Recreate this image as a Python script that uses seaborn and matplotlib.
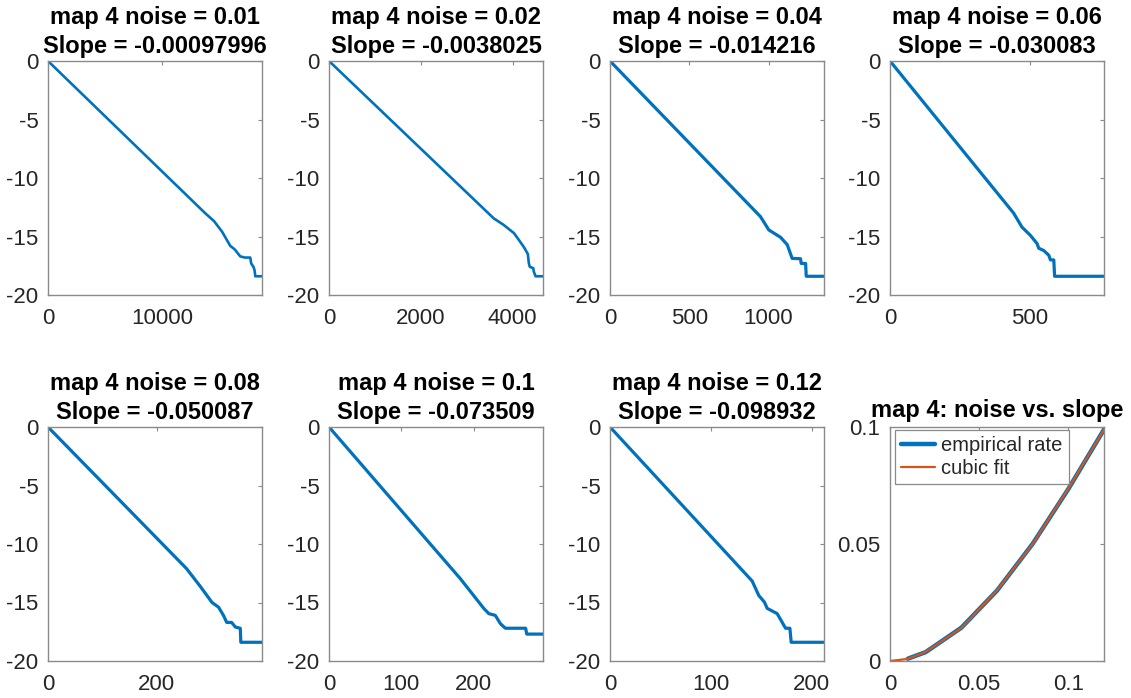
import numpy as np
import pandas as pd
import matplotlib
matplotlib.use("Agg")
import matplotlib.pyplot as plt
import seaborn as sns

# ---------------- data ----------------
noise_levels = [0.01, 0.02, 0.04, 0.06, 0.08, 0.1, 0.12]
slope_labels = ["-0.00097996", "-0.0038025", "-0.014216", "-0.030083",
                "-0.050087", "-0.073509", "-0.098932"]

x_limits = [18800, 4660, 1350, 767, 394, 296, 212]

x_ticks = [[0, 10000], [0, 2000, 4000], [0, 500, 1000], [0, 500],
           [0, 200], [0, 100, 200], [0, 100, 200]]

curve1_x = [0, 13800, 14600, 15300, 16010, 16400, 16890, 17300, 17770, 17850, 18050, 18150, 18210, 18800]
curve1_y = [0, -13.0, -13.7, -14.6, -15.8, -16.1, -16.7, -16.8, -16.8, -17.3, -17.6, -17.9, -18.4, -18.4]

curve2_x = [0, 3587, 3800, 4024, 4100, 4243, 4330, 4352, 4374, 4447, 4460, 4498, 4660]
curve2_y = [0, -13.45, -14.0, -14.7, -15.1, -15.9, -16.5, -17.3, -17.6, -17.7, -18.0, -18.4, -18.4]

curve3_x = [0, 949, 1002, 1076, 1118, 1149, 1202, 1206, 1234, 1238, 1350]
curve3_y = [0, -13.3, -14.44, -15.07, -15.7, -16.87, -16.9, -17.3, -17.3, -18.4, -18.4]

curve4_x = [0, 443, 473, 503, 527, 533, 551, 569, 575, 587, 590, 767]
curve4_y = [0, -13.0, -14.2, -14.9, -15.6, -16.0, -16.2, -16.6, -17.0, -17.0, -18.4, -18.4]

curve5_x = [0, 255, 280, 302, 314, 323, 329, 338, 345, 354, 355, 394]
curve5_y = [0, -12.1, -13.6, -15.0, -15.4, -16.1, -16.7, -16.7, -17.1, -17.2, -18.4, -18.4]

curve6_x = [0, 181.6, 200, 214, 221, 230, 237, 239.5, 244, 272, 273.5, 296]
curve6_y = [0, -12.96, -14.4, -15.5, -15.95, -16.1, -16.8, -16.95, -17.2, -17.2, -17.7, -17.7]

curve7_x = [0, 140.8, 147.4, 153, 155.7, 165.6, 170.6, 173.9, 178.2, 179.5, 212]
curve7_y = [0, -13.16, -14.4, -14.97, -15.5, -15.95, -16.7, -17.2, -17.2, -18.4, -18.4]

curves_x = [curve1_x, curve2_x, curve3_x, curve4_x, curve5_x, curve6_x, curve7_x]
curves_y = [curve1_y, curve2_y, curve3_y, curve4_y, curve5_y, curve6_y, curve7_y]

empirical_rate = [0.00097996, 0.0038025, 0.014216, 0.030083, 0.050087, 0.073509, 0.098932]
fit_x = [0, 0.01, 0.02, 0.04, 0.06, 0.08, 0.1, 0.12]
fit_y = [0.0, 0.0009, 0.0039, 0.0141, 0.0302, 0.0500, 0.0737, 0.0989]

# ---------------- style ----------------
sns.set_style("white")
plt.rcParams['font.family'] = ['Liberation Sans', 'DejaVu Sans']
plt.rcParams['axes.unicode_minus'] = False

BLUE = "#0072BD"
ORANGE = "#D95319"
EDGE = "#8a8a8a"
TXT = "#262626"

W, H = 1131, 698
fig = plt.figure(figsize=(W / 100, H / 100), dpi=100)

col_left = [48, 329, 610, 890]
row_top = [61, 427]
ax_w, ax_h = 214, 234


def make_axes(r, c):
    l = col_left[c]
    t = row_top[r]
    return fig.add_axes([l / W, (H - t - ax_h) / H, ax_w / W, ax_h / H])


def style_axes(ax):
    for s in ax.spines.values():
        s.set_color(EDGE)
        s.set_linewidth(1.0)
    ax.tick_params(direction="in", length=3, width=0.8, color=EDGE,
                   labelsize=16, labelcolor=TXT, top=True, right=True)
    ax.tick_params(axis="x", pad=9)
    ax.tick_params(axis="y", pad=7)
    ax.set_xlabel("")
    ax.set_ylabel("")


for i in range(7):
    r, c = divmod(i, 4)
    ax = make_axes(r, c)
    df = pd.DataFrame({"x": curves_x[i], "y": curves_y[i]})
    lw = 1.9 if i < 2 else 2.3
    sns.lineplot(data=df, x="x", y="y", sort=False, estimator=None,
                 color=BLUE, linewidth=lw, ax=ax)
    ax.set_xlim(0, x_limits[i])
    ax.set_ylim(-20, 0)
    ax.set_xticks(x_ticks[i])
    ax.set_xticklabels([str(v) for v in x_ticks[i]])
    ax.set_yticks([-20, -15, -10, -5, 0])
    ax.set_yticklabels(["-20", "-15", "-10", "-5", "0"])
    style_axes(ax)
    ax.set_title(f"map 4 noise = {noise_levels[i]:g}\nSlope = {slope_labels[i]}",
                 fontsize=17, fontweight="bold", color="black", pad=6,
                 linespacing=1.3)

# summary panel
ax = make_axes(1, 3)
df_emp = pd.DataFrame({"noise": noise_levels, "rate": empirical_rate})
df_fit = pd.DataFrame({"noise": fit_x, "rate": fit_y})
sns.lineplot(data=df_emp, x="noise", y="rate", color=BLUE, linewidth=3.2,
             ax=ax, label="empirical rate", sort=False, estimator=None)
sns.lineplot(data=df_fit, x="noise", y="rate", color=ORANGE, linewidth=1.6,
             ax=ax, label="cubic fit", sort=False, estimator=None)
ax.set_xlim(0, 0.12)
ax.set_ylim(0, 0.1)
ax.set_xticks([0, 0.05, 0.1])
ax.set_xticklabels(["0", "0.05", "0.1"])
ax.set_yticks([0, 0.05, 0.1])
ax.set_yticklabels(["0", "0.05", "0.1"])
style_axes(ax)
ax.set_title("map 4: noise vs. slope", fontsize=17, fontweight="bold",
             color="black", pad=7)
leg = ax.legend(loc="upper left", bbox_to_anchor=(0.023, 0.988),
                borderaxespad=0, fontsize=14.5, frameon=True, fancybox=False,
                framealpha=1, edgecolor=EDGE, handlelength=1.7,
                handletextpad=0.3, borderpad=0.3, labelspacing=0.2)
leg.get_frame().set_linewidth(0.9)
for t in leg.get_texts():
    t.set_color(TXT)

fig.savefig("out.png", dpi=100, facecolor="white")
